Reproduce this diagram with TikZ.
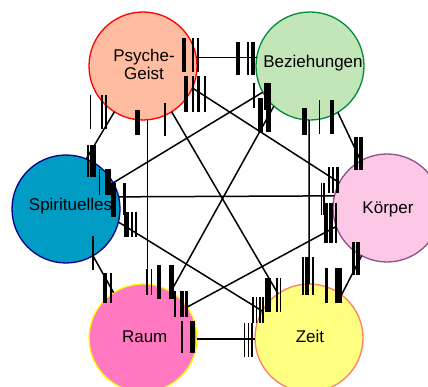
\documentclass[tikz,border=0pt]{standalone}
\usepackage{fontspec}
\setmainfont{Liberation Sans}
\definecolor{psyF}{HTML}{FFBCA0}\definecolor{psyD}{HTML}{FF0000}
\definecolor{bezF}{HTML}{C2E6B8}\definecolor{bezD}{HTML}{008C3C}
\definecolor{spiF}{HTML}{009CC4}\definecolor{spiD}{HTML}{000090}
\definecolor{korF}{HTML}{FCC8E6}\definecolor{korD}{HTML}{8C508C}
\definecolor{rauF}{HTML}{FF78C0}\definecolor{rauD}{HTML}{FFFF00}
\definecolor{zeiF}{HTML}{FFFF80}\definecolor{zeiD}{HTML}{FF8060}
\begin{document}
\begin{tikzpicture}[x=1pt,y=-1pt,
  disc/.style={circle,minimum size=108pt,inner sep=0pt,outer sep=0pt,line width=1.3pt},
  lbl/.style={font=\fontsize{17}{17.6}\selectfont,inner sep=0pt,align=center},
  edge/.style={line width=1.5pt,black},
  tick/.style={fill=black}]
\useasboundingbox (0,0) rectangle (428,387);
\clip (0,0) rectangle (428,387);
% circles
\node[disc,draw=psyD,fill=psyF] (psy) at (143,66) {};
\node[disc,draw=bezD,fill=bezF] (bez) at (310,66) {};
\node[disc,draw=spiD,fill=spiF] (spi) at (66,209) {};
\node[disc,draw=korD,fill=korF] (kor) at (387,208) {};
\node[disc,draw=rauD,fill=rauF] (rau) at (143,338) {};
\node[disc,draw=zeiD,fill=zeiF] (zei) at (309,338) {};
% labels
\node[lbl] (psyt) at (144,64.4) {Psyche-\\Geist};
\node[lbl,anchor=base] (bezt) at (313,67.3) {Beziehungen};
\node[lbl,anchor=base] (spit) at (70.5,211) {Spirituelles};
\node[lbl,anchor=base] (kort) at (388,213.3) {Körper};
\node[lbl,anchor=base] (raut) at (144.7,342.7) {Raum};
\node[lbl,anchor=base] (zeit) at (310,342.3) {Zeit};
% connectors
\draw[edge] (psy.9) -- (bez.171);
\draw[edge] (psy.-24) -- (kor.152);
\draw[edge] (psy.-58) -- (zei.125);
\draw[edge] (psy.-85.7) -- (rau.85.7);
\draw[edge] (psy.-122.5) -- (spi.68);
\draw[edge] (bez.209) -- (spi.29);
\draw[edge] (bez.-132) -- (rau.59);
\draw[edge] (bez.-91) -- (zei.90);
\draw[edge] (bez.-59) -- (kor.119.4);
\draw[edge] (spi.13.3) -- (kor.167.7);
\draw[edge] (spi.-14) -- (zei.150.5);
\draw[edge] (spi.-60.6) -- (rau.123);
\draw[edge] (kor.200) -- (rau.35.2);
\draw[edge] (kor.-118) -- (zei.53);
\draw[edge] (rau.-1) -- (zei.181);
% bar marks
\foreach \xa/\xb/\ya/\yb in {
  182/186/38/72, 192/193.5/38/72, 197/198.5/38/72,
  236/239.5/42/75, 247/249/42/75, 251/255/42/75,
  184/188/76/112, 192/194/76/112, 197/200/76/112, 204/206/76/112,
  135/140/110/135, 164/165.5/103/136,
  89.5/91/95/129, 101/102.5/95/129, 105/107/95/129,
  87/88.5/145/177, 90/96/145/177,
  98.5/100/169/195, 105/110.5/169/195,
  111/116/183/217, 123/125.5/183/215,
  124/128.5/212/237, 130.5/132.5/212/237, 134.5/137/212/237,
  92/93.5/236/270,
  102.5/106.5/273/303, 109.5/112/273/303,
  146/147.5/269/295, 150.5/152/269/295, 156.5/160.5/265/299, 168.5/173.5/265/299,
  173.5/175.5/291/317, 179.5/184/291/317, 185/188/291/317,
  181/183/321/353, 189.5/195/321/353,
  243.5/245/323/357, 247.5/249/323/357, 251/253/323/357,
  252/254/297/323, 255.5/257/297/323, 258.5/261/297/323, 262/263.5/297/323,
  265/270.5/278/312, 276/277.5/278/312, 279.5/281/278/312,
  302/304/257/295, 305/308.5/257/295, 312/313.5/257/295,
  325/328/268/303, 335/341.5/268/303,
  352/355/242/275, 356/359.5/242/275,
  324/327.5/203/243, 329/332.5/203/243, 335/337/203/243,
  320.5/322/183/215, 323/324.5/183/215,
  327.5/330/167/193, 331.5/333.5/167/193, 335.5/338.5/167/193,
  354/358/137/170, 359/362.5/137/170,
  302/307/108/135, 318.5/320/100/134, 330/333.5/100/134,
  253/255/83/108, 263.5/270.5/83/110, 257.5/262.5/98/132, 266/270.5/98/132}
  \fill[tick] (\xa,\ya) rectangle (\xb,\yb);
\end{tikzpicture}
\end{document}
